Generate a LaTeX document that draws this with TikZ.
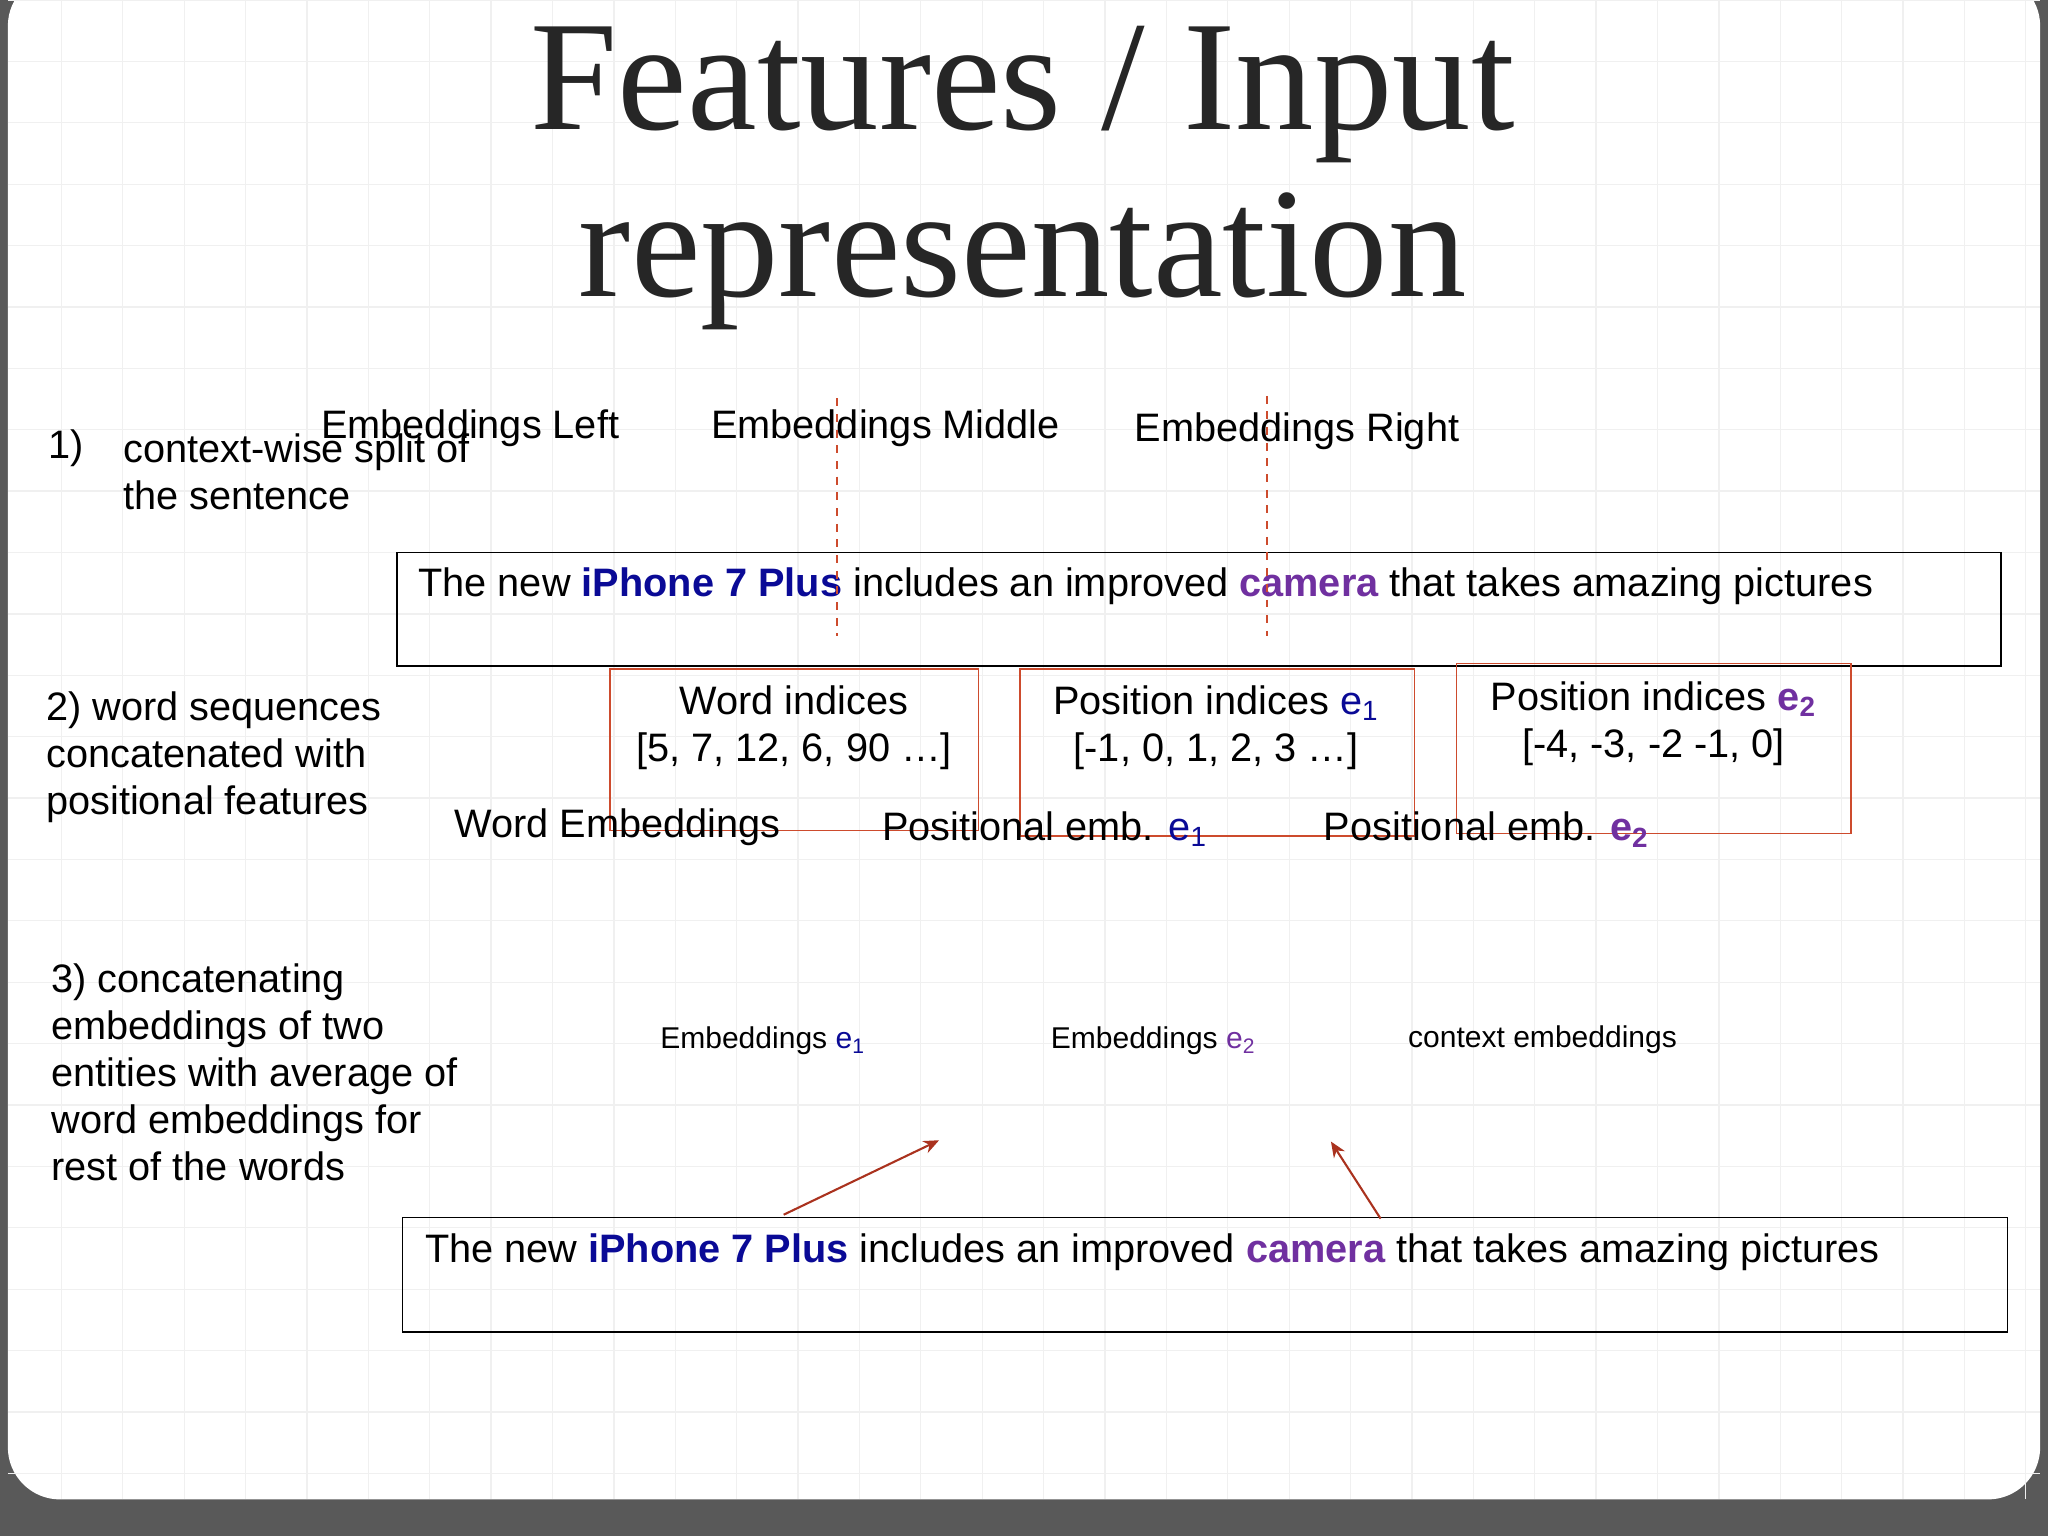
\documentclass[tikz,border=0pt]{standalone}
\usepackage{fontspec}
\setmainfont{Liberation Sans}
\newfontfamily\titlefont{Liberation Serif}
\usetikzlibrary{arrows.meta}
\definecolor{ibl}{RGB}{10,10,150}
\definecolor{ipu}{RGB}{112,48,160}
\definecolor{ired}{RGB}{205,75,45}
\definecolor{arr}{RGB}{170,50,30}
\tikzset{
 body/.style={font=\fontsize{15.2}{18}\selectfont,inner sep=0pt},
 small/.style={font=\fontsize{11.5}{13}\selectfont,inner sep=0pt},
 sentbox/.style={draw=black,line width=0.6pt},
 redbox/.style={draw=ired,line width=0.6pt},
 sep/.style={draw=ired,dashed,line width=0.6pt},
 arrw/.style={draw=arr,line width=0.8pt,-{Stealth[length=6pt,width=5pt]}}
}
\newcommand{\sent}{The new \textbf{\color{ibl}iPhone 7 Plus} includes an improved \textbf{\color{ipu}camera} that takes amazing pictures}
\begin{document}
\begin{tikzpicture}[x=0.5pt,y=-0.5pt]
\useasboundingbox (0,0) rectangle (1568,1176);
\fill[gray!70!black] (0,0) rectangle (1568,1176);
\fill[white,rounded corners=20pt] (6,-20) rectangle (1562,1148);
\begin{scope}
\clip (6,0) rectangle (1562,1148);
\foreach \g in {0,47,...,1600} {\draw[gray!12,line width=0.5pt] (\g,0) -- (\g,1148);}
\foreach \g in {0,47,...,1148} {\draw[gray!12,line width=0.5pt] (6,\g) -- (1562,\g);}
\end{scope}
% title
\node[font=\titlefont\fontsize{60}{64}\selectfont,text=black!85] (t1) at (783,72) {Features / Input};
\node[font=\titlefont\fontsize{60}{64}\selectfont,text=black!85] (t2) at (783,200) {representation};
% item 1
\node[body,anchor=west] (n1) at (37,343) {1)};
\node[body,anchor=west,align=left] (i1) at (94,361) {context-wise split of\\[0pt]the sentence};
\node[body] (eL) at (360,328) {Embeddings Left};
\node[body] (eM) at (678,328) {Embeddings Middle};
\node[body] (eR) at (993,330) {Embeddings Right};
\draw[sentbox] (304,423) rectangle (1532,510);
\node[body,anchor=west] (s1) at (320,449) {\sent};
\coordinate (d1a) at (641,305); \coordinate (d1b) at (641,487);
\coordinate (d2a) at (970,303); \coordinate (d2b) at (970,487);
\draw[sep] (d1a) -- (d1b);
\draw[sep] (d2a) -- (d2b);
% item 2
\node[body,anchor=west,align=left] (i2) at (35,580) {2) word sequences\\[0pt]concatenated with\\[0pt]positional features};
\draw[redbox] (467,512) rectangle (749,636);
\draw[redbox] (781,512) rectangle (1083,640);
\draw[redbox] (1115,508) rectangle (1417,638);
\node[body,align=center] (wi) at (608,557) {Word indices\\[0pt][5, 7, 12, 6, 90 …]};
\node[body,align=center] (p1) at (931,557) {Position indices {\color{ibl}e$_{\mathrm 1}$}\\[0pt][-1, 0, 1, 2, 3 …]};
\node[body,align=center] (p2) at (1266,554) {Position indices {\color{ipu}\textbf{e$_{\mathbf 2}$}}\\[0pt][-4, -3, -2 -1, 0]};
\node[body] (we) at (473,633) {Word Embeddings};
\node[body] (pe1) at (800,635) {Positional emb. {\color{ibl}e$_{\mathrm 1}$}};
\node[body] (pe2) at (1138,635) {Positional emb. {\color{ipu}\textbf{e$_{\mathbf 2}$}}};
% item 3
\node[body,anchor=west,align=left] (i3) at (39,821) {3) concatenating\\[0pt]embeddings of two\\[0pt]entities with average of\\[0pt]word embeddings for\\[0pt]rest of the words};
\node[small] (se1) at (584,797) {Embeddings {\color{ibl}e$_{\mathrm 1}$}};
\node[small] (se2) at (883,797) {Embeddings {\color{ipu}e$_{\mathrm 2}$}};
\node[small] (ctx) at (1181,796) {context embeddings};
\draw[sentbox] (308,932) rectangle (1537,1020);
\node[body,anchor=west] (s2) at (325,959) {\sent};
\coordinate (a1s) at (600,930); \coordinate (a1e) at (719,873);
\coordinate (a2s) at (1057,933); \coordinate (a2e) at (1019,874);
\draw[arrw] (a1s) -- (a1e);
\draw[arrw] (a2s) -- (a2e);
\end{tikzpicture}
\end{document}
